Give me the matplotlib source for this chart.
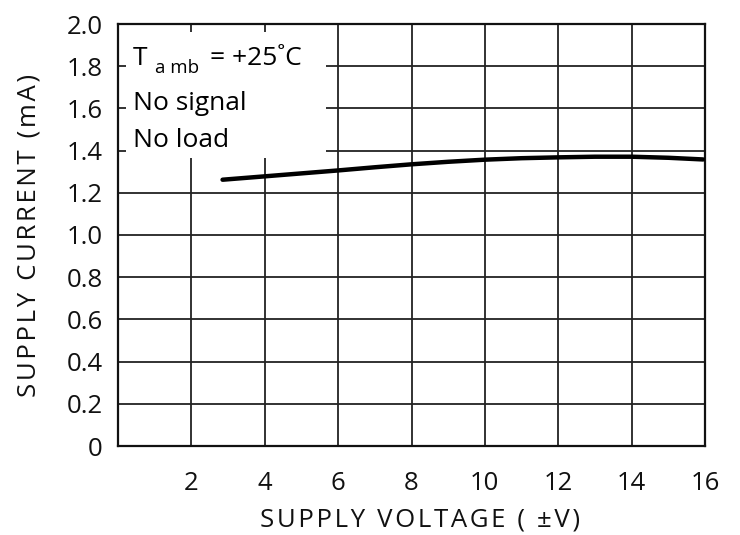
import matplotlib.pyplot as plt
from matplotlib.patches import Rectangle

# supply current vs supply voltage, Tamb = 25 C
voltaje = [2.85, 4, 5, 6, 7, 8, 9, 10, 11, 12, 13, 14, 15, 15.95]
corriente = [1.262, 1.278, 1.292, 1.306, 1.321, 1.335, 1.347, 1.357, 1.364, 1.368, 1.371, 1.371, 1.366, 1.358]

xticks = [2, 4, 6, 8, 10, 12, 14, 16]
yticks = [0, 0.2, 0.4, 0.6, 0.8, 1.0, 1.2, 1.4, 1.6, 1.8, 2.0]
yticklabels = ["0", "0.2", "0.4", "0.6", "0.8", "1.0", "1.2", "1.4", "1.6", "1.8", "2.0"]

plt.rcParams['font.family'] = ['Open Sans', 'DejaVu Sans']

def espaciar(s):
    # small extra tracking between letters
    return '\u200a'.join(s)

fig = plt.figure(figsize=(7.4, 5.35), dpi=100)
ax = fig.add_axes([118/740, 89/535, 587/740, 422/535])

ax.set_xlim(0, 16)
ax.set_ylim(0, 2.0)
ax.set_xticks(xticks)
ax.set_yticks(yticks)
ax.set_yticklabels(yticklabels)
ax.tick_params(length=0, labelsize=18.5, colors='#111111')
ax.tick_params(axis='y', pad=11)
ax.tick_params(axis='x', pad=18)
ax.grid(True, color='#222222', linewidth=1.3)
ax.set_axisbelow(True)
for s in ax.spines.values():
    s.set_linewidth(1.6)
    s.set_color('#111111')

# white box hiding grid behind the notes
ax.add_patch(Rectangle((0.22, 1.365), 5.45, 0.595, facecolor='white',
                       edgecolor='none', zorder=1))

ax.plot(voltaje, corriente, color='black', linewidth=3.2, zorder=3,
        solid_capstyle='round')

ax.text(0.40, 1.835, "T", fontsize=19, va='center', zorder=4)
ax.text(1.0, 1.79, "a mb", fontsize=13.5, va='center', zorder=4)
ax.text(2.5, 1.835, "= +25˚C", fontsize=19, va='center', zorder=4)
ax.text(0.42, 1.625, "No signal", fontsize=19, va='center', zorder=4)
ax.text(0.42, 1.45, "No load", fontsize=19, va='center', zorder=4)

ax.set_xlabel(espaciar("SUPPLY VOLTAGE ( ±V)"), fontsize=18.5, labelpad=8, color='#111111')
ax.set_ylabel(espaciar("SUPPLY CURRENT (mA)"), fontsize=18.5, labelpad=18, color='#111111')
ax.xaxis.label.set_x(0.514)

fig.savefig("out.png", dpi=100)
